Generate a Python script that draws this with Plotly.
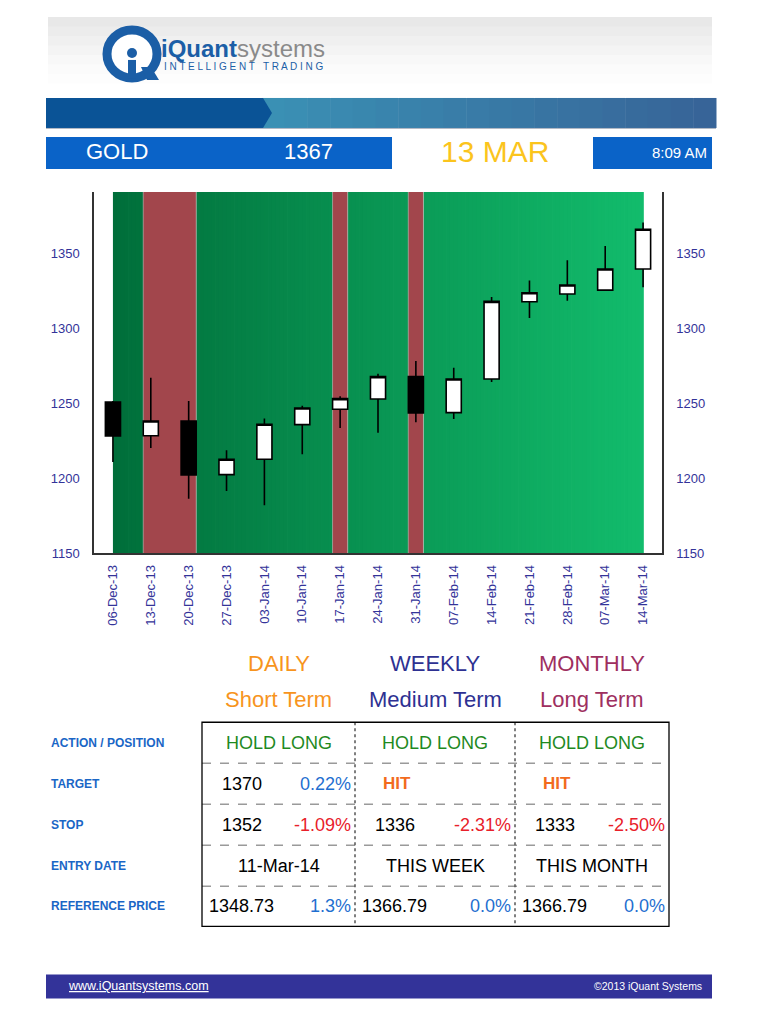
import plotly.graph_objects as go

# weekly gold candles
weeks = ["06-Dec-13", "13-Dec-13", "20-Dec-13", "27-Dec-13", "03-Jan-14", "10-Jan-14", "17-Jan-14",
         "24-Jan-14", "31-Jan-14", "07-Feb-14", "14-Feb-14", "21-Feb-14", "28-Feb-14", "07-Mar-14", "14-Mar-14"]
opens = [1250.9, 1228.4, 1238.2, 1202.4, 1212.7, 1235.8, 1246.0, 1252.9, 1267.8, 1243.8, 1266.2, 1317.8, 1322.9, 1325.5, 1339.6]
highs = [1251.5, 1267.1, 1251.5, 1218.7, 1239.8, 1248.4, 1254.7, 1269.8, 1278.2, 1273.8, 1320.9, 1332.0, 1345.5, 1354.9, 1370.7]
lows = [1210.9, 1220.2, 1186.4, 1191.5, 1182.0, 1216.0, 1233.5, 1230.4, 1237.3, 1239.5, 1264.2, 1306.9, 1318.4, 1325.3, 1327.5]
closes = [1228.2, 1238.2, 1202.2, 1212.7, 1236.0, 1246.9, 1253.1, 1267.8, 1243.6, 1266.2, 1318.0, 1323.8, 1328.9, 1339.6, 1366.2]

# trend background (in week index units)
trend_start = [0, 0.8, 2.2, 5.8, 6.2, 7.8, 8.2]
trend_end = [0.8, 2.2, 5.8, 6.2, 7.8, 8.2, 14]
trend_state = ["up", "down", "up", "down", "up", "down", "up"]

y_ticks = [1150, 1200, 1250, 1300, 1350]

# header
symbol = "GOLD"
last_price = "1367"
report_date = "13 MAR"
report_time = "8:09 AM"

# signal table
horizons = ["DAILY", "WEEKLY", "MONTHLY"]
terms = ["Short Term", "Medium Term", "Long Term"]
row_labels = ["ACTION / POSITION", "TARGET", "STOP", "ENTRY DATE", "REFERENCE PRICE"]
actions = ["HOLD LONG", "HOLD LONG", "HOLD LONG"]
target_values = ["1370", "HIT", "HIT"]
target_pcts = ["0.22%", "", ""]
stop_values = ["1352", "1336", "1333"]
stop_pcts = ["-1.09%", "-2.31%", "-2.50%"]
entry_dates = ["11-Mar-14", "THIS WEEK", "THIS MONTH"]
ref_prices = ["1348.73", "1366.79", "1366.79"]
ref_pcts = ["1.3%", "0.0%", "0.0%"]

# page is 768x1024, the html body adds an 8px margin around the figure
OFF = 8
W, H = 768 - 2 * OFF, 1008
FONT = "Liberation Sans, Arial, sans-serif"
NAVY = "#333399"
VSCALE = 0.9916  # small vertical correction measured on the rendered page


def px(x):
    return (x - OFF) / W


def py(y):
    f = 9 + (y - 17) / VSCALE
    return 1 - f / H


shapes = []
notes = []


def rect(x0, y0, x1, y1, fill, line_color=None, line_width=0, dash=None):
    line = dict(width=line_width, color=line_color or fill)
    if dash:
        line["dash"] = dash
    shapes.append(dict(type="rect", xref="paper", yref="paper", x0=px(x0), x1=px(x1),
                       y0=py(y1), y1=py(y0), fillcolor=fill, line=line, layer="above"))


def hline(x0, x1, y, color, width=1, dash=None):
    shapes.append(dict(type="line", xref="paper", yref="paper", x0=px(x0), x1=px(x1),
                       y0=py(y), y1=py(y), line=dict(color=color, width=width, dash=dash)))


def vline(x, y0, y1, color, width=1, dash=None):
    shapes.append(dict(type="line", xref="paper", yref="paper", x0=px(x), x1=px(x),
                       y0=py(y0), y1=py(y1), line=dict(color=color, width=width, dash=dash)))


def text(x, y, s, size, color, anchor="center", bold=False):
    if bold:
        s = "<b>" + s + "</b>"
    notes.append(dict(x=px(x), y=py(y), xref="paper", yref="paper", text=s, showarrow=False,
                      xanchor=anchor, yanchor="middle", font=dict(size=size, color=color, family=FONT)))


def mix(c1, c2, t):
    return "rgb(%d,%d,%d)" % tuple(round(a + (b - a) * t) for a, b in zip(c1, c2))


fig = go.Figure()
fig.add_trace(go.Candlestick(
    x=weeks, open=opens, high=highs, low=lows, close=closes,
    increasing=dict(fillcolor="white", line=dict(color="black", width=1.6)),
    decreasing=dict(fillcolor="black", line=dict(color="black", width=1.6)),
    whiskerwidth=0, showlegend=False, hoverinfo="x+y"))
fig.add_trace(go.Scatter(x=weeks, y=closes, yaxis="y2", mode="markers",
                         marker=dict(opacity=0), showlegend=False, hoverinfo="skip"))

# background trend bands with a green gradient
dark_green = (0, 110, 58)
light_green = (18, 188, 108)
for s, e, state in zip(trend_start, trend_end, trend_state):
    if state == "down":
        fig.add_vrect(x0=s, x1=e, fillcolor="#a2464c", line_width=0, layer="below", opacity=1)
        continue
    step = 0.1
    a = s
    while a < e - 1e-9:
        b = min(a + step, e)
        fig.add_vrect(x0=a, x1=b + 0.02, fillcolor=mix(dark_green, light_green, (a + b) / 2 / 14),
                      line_width=0, layer="below", opacity=1)
        a = b
# faint seams between the bands
for s in trend_start[1:]:
    fig.add_vline(x=s, line=dict(color="rgba(200,190,190,0.6)", width=1), layer="below")

# ---- header
for i, g in enumerate([232, 236, 240, 244, 248, 251, 253, 255]):
    rect(48, 17 + i * 9.5, 712, 17 + (i + 1) * 9.5 + 0.5, "rgb(%d,%d,%d)" % (g, g, g))
# logo
shapes.append(dict(type="circle", xref="paper", yref="paper", x0=px(107), x1=px(157), y0=py(78), y1=py(30),
                   fillcolor="white", line=dict(color="#1b5ea6", width=9), layer="above"))
shapes.append(dict(type="path", xref="paper", yref="paper",
                   path="M %f,%f L %f,%f L %f,%f L %f,%f Z" % (px(141), py(67), px(151), py(67), px(159), py(80), px(147), py(80)),
                   fillcolor="#1b5ea6", line=dict(width=0), layer="above"))
shapes.append(dict(type="circle", xref="paper", yref="paper", x0=px(127), x1=px(137), y0=py(58), y1=py(48),
                   fillcolor="#1b5ea6", line=dict(width=0), layer="above"))
rect(128, 60, 136, 79, "#1b5ea6")
notes.append(dict(x=px(159), y=py(49), xref="paper", yref="paper", showarrow=False, xanchor="left", yanchor="middle",
                  text="<b><span style='color:#1b5ea6'>iQuant</span></b><span style='color:#8a8a8a'>systems</span>",
                  font=dict(size=24, family=FONT)))
text(162, 67, "I N T E L L I G E N T   T R A D I N G", 10, "#1b5ea6", anchor="left")

# banner
for i in range(20):
    x0 = 262 + i * (716 - 262) / 20
    x1 = 262 + (i + 1) * (716 - 262) / 20 + 0.5
    rect(x0, 98, x1, 128, mix((58, 144, 180), (55, 100, 152), i / 19))
shapes.append(dict(type="path", xref="paper", yref="paper",
                   path="M %f,%f L %f,%f L %f,%f L %f,%f L %f,%f Z" % (px(46), py(98), px(263), py(98), px(272), py(113),
                                                                   px(263), py(128), px(46), py(128)),
                   fillcolor="#0a5396", line=dict(width=0), layer="above"))
hline(46, 716, 128.5, "#b0b8c4", 1)

# info row
rect(46, 137, 392, 169, "#0a63c8")
rect(593, 137, 712, 169, "#0a63c8")
text(117, 152, symbol, 22, "white")
text(308, 152, last_price, 22, "white")
text(495, 152, report_date, 30, "#fbc41d")
text(709, 153, report_time, 15, "white", anchor="right")

# ---- horizons
col_edges = [202, 355, 515, 669]
horizon_colors = ["#f7941d", "#2e3192", "#9e2f5f"]
for i in range(3):
    c = (col_edges[i] + col_edges[i + 1]) / 2
    text(c, 663, horizons[i], 22, horizon_colors[i])
    text(c, 699, terms[i], 22, horizon_colors[i])

# ---- table
row_edges = [722, 763, 804, 845, 886, 926]
row_mid = [(row_edges[i] + row_edges[i + 1]) / 2 for i in range(5)]
for i, lab in enumerate(row_labels):
    text(49, row_mid[i], lab, 12, "#1a66c6", anchor="left", bold=True)
for y in row_edges[1:-1]:
    hline(col_edges[0], col_edges[-1], y, "#9a9a9a", 1.5, dash="dash")
for x in col_edges[1:-1]:
    vline(x, row_edges[0], row_edges[-1], "#555555", 1.5, dash="dot")
rect(col_edges[0], row_edges[0], col_edges[-1], row_edges[-1], "rgba(0,0,0,0)", "black", 1.3)

GREEN_TXT = "#1f8a1f"
BLUE_TXT = "#1f6fd0"
RED_TXT = "#e8202a"
for i in range(3):
    left, right = col_edges[i], col_edges[i + 1]
    c = (left + right) / 2
    text(c, row_mid[0], actions[i], 18, GREEN_TXT)
    if target_values[i] == "HIT":
        text(left + 26, row_mid[1], "HIT", 17, "#f26b1d", anchor="left", bold=True)
    else:
        text(left + 18, row_mid[1], target_values[i], 18, "black", anchor="left")
        text(right - 2, row_mid[1], target_pcts[i], 18, BLUE_TXT, anchor="right")
    text(left + 18, row_mid[2], stop_values[i], 18, "black", anchor="left")
    text(right - 2, row_mid[2], stop_pcts[i], 18, RED_TXT, anchor="right")
    text(c, row_mid[3], entry_dates[i], 18, "black")
    text(left + 5, row_mid[4], ref_prices[i], 18, "black", anchor="left")
    text(right - 2, row_mid[4], ref_pcts[i], 18, BLUE_TXT, anchor="right")

# ---- footer
rect(46, 974, 712, 998, "#333399")
text(66, 986, "<u>www.iQuantsystems.com</u>", 12.5, "white", anchor="left")
text(704, 986, "©2013 iQuant Systems", 10.5, "white", anchor="right")

axis_common = dict(showgrid=False, zeroline=False, showline=True, linecolor="#333333", linewidth=1.5,
                   ticks="", tickfont=dict(size=13, color=NAVY, family=FONT))
fig.update_layout(
    width=W, height=H, margin=dict(l=0, r=0, t=0, b=0),
    paper_bgcolor="white", plot_bgcolor="white",
    font=dict(family=FONT),
    boxgap=0.43, boxgroupgap=0.3,
    xaxis=dict(axis_common, type="category", domain=[px(94), px(662)], range=[-0.5, 14.5],
               tickangle=-90, rangeslider=dict(visible=False), anchor="y", ticklabelstandoff=5),
    yaxis=dict(axis_common, domain=[py(553), py(192)], range=[1150, 1391], tickvals=y_ticks,
               ticklabelstandoff=10),
    yaxis2=dict(axis_common, overlaying="y", side="right", range=[1150, 1391], tickvals=y_ticks,
                ticklabelstandoff=10, anchor="x"),
    shapes=fig.layout.shapes + tuple(shapes),
    annotations=notes,
)
fig.write_html("out.html")
